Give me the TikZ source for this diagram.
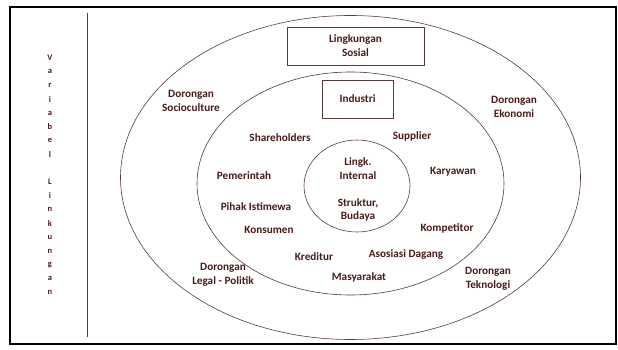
\documentclass[tikz,border=0pt]{standalone}
\usepackage{fontspec}
\setmainfont{Carlito}
\definecolor{txt}{HTML}{4A1A1A}
\definecolor{ln}{HTML}{5A3A36}
\begin{document}
\begin{tikzpicture}[x=1pt,y=-1pt,
  lbl/.style={text=txt,font=\fontsize{11.2}{13.8}\selectfont\bfseries,align=center,inner sep=0pt},
  vlbl/.style={text=txt,font=\fontsize{8.5}{9}\selectfont\bfseries,inner sep=0pt},
  boxed/.style={draw=ln,line width=0.6pt,inner sep=0pt},
  ring/.style={draw=ln,line width=0.6pt}]
\useasboundingbox (0,0) rectangle (618,350);
\fill[white] (0,0) rectangle (618,350);
% frame
\draw[line width=2.4pt,black] (10,7) rectangle (616,344);
% vertical divider
\draw[ln,line width=0.8pt] (87,13) -- (87,337);
% vertical text
\foreach \ch [count=\i from 0] in {V,a,r,i,a,b,e,l,{},L,i,n,k,u,n,g,a,n}
  \node[vlbl] (v\i) at (50,58+13.8*\i) {\ch};
% ellipses
\draw[ring] (350.5,177.5) ellipse [x radius=230, y radius=162];
\draw[ring] (350.5,183.5) ellipse [x radius=153.5, y radius=111.5];
\draw[ring] (357,186) ellipse [x radius=53, y radius=46];
% boxes
\node[boxed,minimum width=137pt,minimum height=38pt] (sosialbox) at (355.5,46) {};
\node[lbl] (sosial) at (355.5,46) {Lingkungan\\Sosial};
\node[boxed,minimum width=71pt,minimum height=38pt] (industribox) at (357.5,99) {};
\node[lbl] (industri) at (357.5,99) {Industri};
% outer labels
\node[lbl] (socio) at (191,101) {Dorongan\\Socioculture};
\node[lbl] (ekonomi) at (514,107) {Dorongan\\Ekonomi};
\node[lbl] (legal) at (223,275) {Dorongan\\Legal - Politik};
\node[lbl] (tekno) at (488,278.5) {Dorongan\\Teknologi};
% middle labels
\node[lbl] (share) at (280,138) {Shareholders};
\node[lbl] (supp) at (412,136) {Supplier};
\node[lbl] (pem) at (244,176) {Pemerintah};
\node[lbl] (kary) at (453,172) {Karyawan};
\node[lbl] (pihak) at (256,207) {Pihak Istimewa};
\node[lbl] (kons) at (269,230) {Konsumen};
\node[lbl] (komp) at (447,228) {Kompetitor};
\node[lbl] (kred) at (314,257) {Kreditur};
\node[lbl] (asos) at (406,255) {Asosiasi Dagang};
\node[lbl] (masy) at (359,277) {Masyarakat};
% inner labels
\node[lbl] (internal) at (358,168.5) {Lingk.\\Internal};
\node[lbl] (struktur) at (358,210) {Struktur,\\Budaya};
\end{tikzpicture}
\end{document}
